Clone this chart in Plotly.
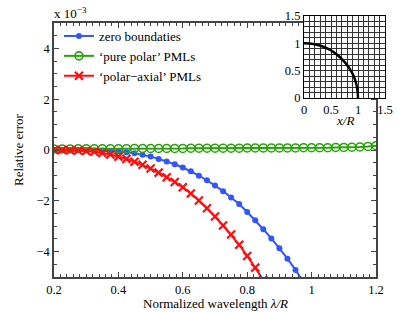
import plotly.graph_objects as go

# ---- data ----
wavelength = [0.200, 0.225, 0.250, 0.275, 0.300, 0.325, 0.350, 0.375, 0.400, 0.425,
              0.450, 0.475, 0.500, 0.525, 0.550, 0.575, 0.600, 0.625, 0.650, 0.675,
              0.700, 0.725, 0.750, 0.775, 0.800, 0.825, 0.850, 0.875, 0.900, 0.925,
              0.950, 0.975, 1.000, 1.025, 1.050, 1.075, 1.100, 1.125, 1.150, 1.175,
              1.200]

zero_boundaries = [0.00, 0.00, 0.00, 0.00, 0.00, -0.01, -0.02, -0.04, -0.06, -0.09,
                   -0.13, -0.19, -0.26, -0.35, -0.45, -0.56, -0.69, -0.84, -1.01, -1.19,
                   -1.40, -1.62, -1.87, -2.13, -2.44, -2.77, -3.12, -3.48, -3.87, -4.28,
                   -4.72, -5.20]

pure_polar = [0.04, 0.04, 0.04, 0.05, 0.05, 0.05, 0.05, 0.05, 0.05, 0.05,
              0.06, 0.06, 0.06, 0.06, 0.06, 0.06, 0.06, 0.07, 0.07, 0.07,
              0.07, 0.07, 0.07, 0.07, 0.08, 0.08, 0.08, 0.08, 0.08, 0.08,
              0.08, 0.09, 0.09, 0.09, 0.09, 0.10, 0.10, 0.11, 0.12, 0.14,
              0.17]

polar_axial = [0.00, 0.00, -0.01, -0.02, -0.04, -0.07, -0.12, -0.18, -0.26, -0.35,
               -0.46, -0.58, -0.73, -0.89, -1.07, -1.26, -1.47, -1.71, -1.99, -2.29,
               -2.62, -2.97, -3.33, -3.73, -4.17, -4.63, -5.12]

series_names = ["zero boundaties", "\u2018pure polar\u2019 PMLs", "\u2018polar\u2212axial\u2019 PMLs"]

x_ticks = [0.2, 0.4, 0.6, 0.8, 1.0, 1.2]
x_tick_labels = ["0.2", "0.4", "0.6", "0.8", "1", "1.2"]
y_ticks = [-4, -2, 0, 2, 4]
inset_ticks = [0, 0.5, 1, 1.5]
inset_tick_labels = ["0", "0.5", "1", "1.5"]
inset_radius = 1.0

# ---- figure ----
FONT = "Liberation Serif, Times New Roman, Times, serif"
BLUE = "#3355ff"
GREEN = "#2aa30a"
RED = "#ff0d0d"
AX = "#444444"

fig = go.Figure()

fig.add_trace(go.Scatter(
    x=wavelength[:len(zero_boundaries)], y=zero_boundaries, name=series_names[0],
    mode="lines+markers", line=dict(color=BLUE, width=2),
    marker=dict(symbol="circle", size=6, color=BLUE),
    xaxis="x", yaxis="y"))
fig.add_trace(go.Scatter(
    x=wavelength[:len(pure_polar)], y=pure_polar, name=series_names[1],
    mode="lines+markers", line=dict(color=GREEN, width=2),
    marker=dict(symbol="circle-open", size=8, color=GREEN, line=dict(width=1.6, color=GREEN)),
    xaxis="x", yaxis="y"))
fig.add_trace(go.Scatter(
    x=wavelength[:len(polar_axial)], y=polar_axial, name=series_names[2],
    mode="lines+markers", line=dict(color=RED, width=2),
    marker=dict(symbol="x-thin", size=8, color=RED, line=dict(width=2.2, color=RED)),
    xaxis="x", yaxis="y"))

# inset: quarter circle of radius 1 drawn as a circle clipped to the inset axes
fig.add_shape(type="circle", xref="x2", yref="y2",
              x0=-inset_radius, y0=-inset_radius, x1=inset_radius, y1=inset_radius,
              line=dict(color="black", width=2.5), layer="above")
# invisible trace so that the inset subplot exists
fig.add_trace(go.Scatter(x=[0, 1.5], y=[0, 1.5], mode="markers",
                         marker=dict(opacity=0), showlegend=False, hoverinfo="skip",
                         xaxis="x2", yaxis="y2"))

# page body margin is removed by the post script, so figure pixels == window pixels
W, H = 415, 312
L, T = 54, 16          # window x 54, y 16
R = W - 385            # window x 385
B = H - 277            # window y 277
pw = W - L - R   # 331
ph = H - T - B   # 261


def px(xw):   # window x -> paper fraction
    return (xw - 54) / pw


def py(yw):   # window y -> paper fraction
    return (277 - yw) / ph


common_axis = dict(automargin=False, zeroline=False)

fig.update_layout(
    template="none",
    width=W, height=H,
    margin=dict(l=L, r=R, t=T, b=B, pad=0, autoexpand=False),
    paper_bgcolor="white", plot_bgcolor="white",
    font=dict(family=FONT, size=13, color="black"),
    showlegend=True,
    legend=dict(x=0.015, y=py(21), xanchor="left", yanchor="top",
                bgcolor="rgba(0,0,0,0)", borderwidth=0,
                font=dict(family=FONT, size=13), tracegroupgap=0,
                itemwidth=30),
    xaxis=dict(domain=[0, px(376)], range=[0.2, 1.2],
               tickvals=x_ticks, ticktext=x_tick_labels,
               ticks="inside", ticklen=5, tickcolor=AX, mirror="ticks",
               showline=True, linecolor=AX, linewidth=1.5,
               showgrid=False,
               tickfont=dict(family=FONT, size=12.5),
               minor=dict(dtick=0.02, ticks="inside", ticklen=3, tickcolor=AX, showgrid=False),
               anchor="y", **common_axis),
    yaxis=dict(domain=[0, py(23)], range=[-5, 5],
               tickvals=y_ticks,
               ticks="inside", ticklen=5, tickcolor=AX, mirror="ticks",
               showline=True, linecolor=AX, linewidth=1.5,
               showgrid=False,
               tickfont=dict(family=FONT, size=12.5),
               minor=dict(dtick=0.5, ticks="inside", ticklen=3, tickcolor=AX, showgrid=False),
               anchor="x", **common_axis),
    xaxis2=dict(domain=[px(304), 1], range=[0, 1.5], anchor="y2",
                tickvals=inset_ticks, ticktext=inset_tick_labels, ticks="",
                showgrid=True, gridcolor="#333333", gridwidth=1,
                minor=dict(dtick=0.1, showgrid=True, gridcolor="#333333", gridwidth=1),
                showline=True, linecolor="black", linewidth=1.2, mirror=True,
                tickfont=dict(family=FONT, size=12.5), **common_axis),
    yaxis2=dict(domain=[py(98), 1], range=[0, 1.5], anchor="x2",
                tickvals=inset_ticks, ticktext=inset_tick_labels, ticks="",
                showgrid=True, gridcolor="#333333", gridwidth=1,
                minor=dict(dtick=0.1, showgrid=True, gridcolor="#333333", gridwidth=1),
                showline=True, linecolor="black", linewidth=1.2, mirror=True,
                tickfont=dict(family=FONT, size=12.5), **common_axis),
    annotations=[
        dict(text="x 10<sup>\u22123</sup>", xref="paper", yref="paper",
             x=px(52), y=py(13), xanchor="left", yanchor="middle",
             showarrow=False, font=dict(family=FONT, size=13)),
        dict(text="Relative error", xref="paper", yref="paper",
             x=px(18), y=py(150), xanchor="center", yanchor="middle",
             textangle=-90, showarrow=False, font=dict(family=FONT, size=13)),
        dict(text="Normalized wavelength <i>\u03bb/R</i>", xref="paper", yref="paper",
             x=px(215), y=py(303), xanchor="center", yanchor="middle",
             showarrow=False, font=dict(family=FONT, size=13)),
        dict(text="<i>x/R</i>", xref="paper", yref="paper",
             x=px(345), y=py(120), xanchor="center", yanchor="middle",
             showarrow=False, font=dict(family=FONT, size=13)),
    ],
)

fig.write_html(
    "out.html",
    config={"displayModeBar": False},
    post_script="document.body.style.margin='0';document.body.style.overflow='hidden';",
)
